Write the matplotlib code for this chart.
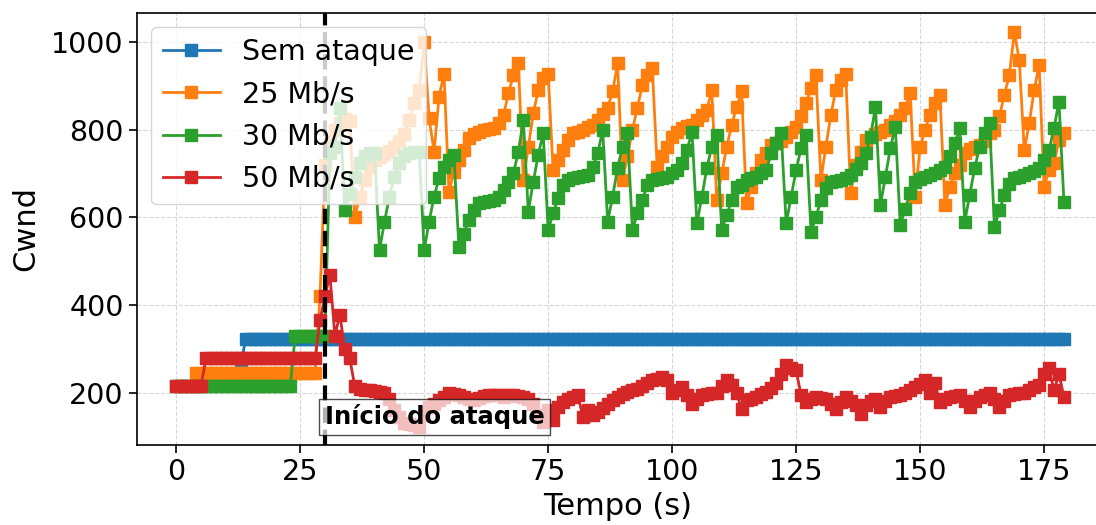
import numpy as np
import matplotlib
matplotlib.use("Agg")
import matplotlib.pyplot as plt

# Cwnd per second, one list per scenario (start second given separately)
BLUE_START = 13
blue_vals = [260] + [322] * 166

ORANGE_START = 4
orange_vals = [245] * 25 + [
    420, 720, 770, 800, 815, 825, 820, 600, 647, 685,          # 29-38
    715, 730, 738, 745, 752, 761, 775, 790, 822, 860,          # 39-48
    890, 1000, 826, 750, 875, 928, 658, 704, 730, 753,         # 49-58
    780, 790, 795, 799, 801, 803, 814, 833, 883, 925,          # 59-68
    951, 685, 760, 837, 890, 917, 928, 708, 730, 753,          # 69-78
    776, 792, 795, 799, 805, 811, 822, 835, 850, 887,          # 79-88
    951, 685, 740, 800, 850, 902, 925, 940, 715, 740,          # 89-98
    760, 784, 795, 803, 808, 811, 822, 833, 845, 890,          # 99-108
    639, 700, 760, 810, 852, 887, 632, 670, 700, 730,          # 109-118
    746, 765, 770, 775, 784, 795, 807, 830, 860, 894,          # 119-128
    925, 685, 761, 833, 890, 913, 928, 655, 720, 750,          # 129-138
    776, 784, 790, 795, 800, 811, 820, 833, 850, 883,          # 139-148
    647, 760, 800, 833, 860, 879, 628, 670, 700, 720,          # 149-158
    746, 755, 761, 765, 775, 792, 800, 830, 880, 925,          # 159-168
    1022, 959, 753, 814, 890, 948, 670, 708, 723, 776,         # 169-178
    792]                                                       # 179

GREEN_START = 0
green_vals = [215] * 24 + [330] * 7 + [
    746, 760, 849, 616, 654, 693, 723, 740, 746, 746,          # 31-40
    525, 590, 647, 693, 723, 740, 746, 748, 750, 525,          # 41-50
    590, 647, 689, 715, 731, 742, 533, 563, 594, 616,          # 51-60
    632, 635, 637, 639, 647, 662, 681, 700, 750, 822,          # 61-70
    613, 681, 742, 792, 571, 609, 643, 674, 685, 690,          # 71-80
    693, 695, 696, 715, 746, 799, 590, 647, 712, 761,          # 81-90
    792, 571, 609, 639, 674, 685, 688, 690, 693, 700,          # 91-100
    708, 723, 753, 795, 586, 647, 712, 761, 788, 571,          # 101-110
    605, 639, 670, 674, 685, 690, 693, 700, 708, 746,          # 111-120
    770, 792, 586, 647, 708, 757, 788, 567, 601, 639,          # 121-130
    666, 681, 683, 685, 690, 696, 710, 723, 746, 784,          # 131-140
    852, 628, 693, 757, 807, 582, 620, 655, 681, 688,          # 141-150
    693, 697, 700, 708, 715, 740, 770, 803, 590, 651,          # 151-160
    712, 761, 792, 814, 578, 616, 651, 677, 690, 693,          # 161-170
    697, 700, 706, 712, 731, 753, 803, 864, 636]               # 171-179

RED_START = 0
red_vals = [215] * 6 + [278] * 23 + [
    365, 420, 468, 330, 378, 300, 278, 215, 209, 207,          # 29-38
    205, 204, 202, 200, 185, 160, 145, 130, 129, 125,          # 39-48
    122, 150, 167, 175, 183, 190, 198, 196, 194, 190,          # 49-58
    185, 183, 188, 192, 194, 194, 194, 190, 194, 194,          # 59-68
    192, 190, 185, 175, 150, 133, 160, 137, 167, 179,          # 69-78
    186, 190, 194, 145, 160, 150, 156, 165, 175, 183,          # 79-88
    190, 196, 202, 205, 209, 215, 221, 228, 232, 236,          # 89-98
    228, 198, 205, 213, 195, 175, 185, 194, 196, 198,          # 99-108
    200, 215, 228, 217, 198, 163, 183, 186, 190, 196,          # 109-118
    202, 210, 221, 243, 262, 255, 251, 194, 179, 185,          # 119-128
    190, 188, 186, 175, 163, 178, 190, 180, 171, 152,          # 129-138
    171, 180, 186, 167, 180, 190, 192, 194, 200, 205,          # 139-148
    213, 220, 228, 198, 221, 179, 185, 190, 192, 194,          # 149-158
    180, 167, 180, 190, 194, 198, 185, 167, 180, 194,          # 159-168
    196, 198, 200, 205, 212, 217, 243, 255, 205, 243,          # 169-178
    190]                                                       # 179

ATTACK_T = 30
series = [
    ("Sem ataque", BLUE_START, blue_vals, "#1f77b4"),
    ("25 Mb/s", ORANGE_START, orange_vals, "#ff7f0e"),
    ("30 Mb/s", GREEN_START, green_vals, "#2ca02c"),
    ("50 Mb/s", RED_START, red_vals, "#d62728"),
]

fig = plt.figure(figsize=(10.96, 5.25), dpi=100)
# right spine sits on the very edge of the image, as in the original crop
ax = fig.add_axes([0.125, 0.152, 0.8765, 0.824])

for label, start, vals, color in series:
    t = start + np.arange(len(vals))
    ax.plot(t, vals, marker="s", markersize=9, linewidth=2, color=color, label=label)

ax.axvline(ATTACK_T, color="black", linestyle="--", linewidth=3)
ax.text(ATTACK_T, 145, "Início do ataque", fontsize=17.5, fontweight="bold",
        ha="left", va="center",
        bbox=dict(facecolor="white", edgecolor="black", alpha=0.7))

ax.set_xlim(-7.9, 185.8)
ax.set_ylim(80, 1067)
ax.set_xticks([0, 25, 50, 75, 100, 125, 150, 175])
ax.set_yticks([200, 400, 600, 800, 1000])
ax.tick_params(labelsize=20.5, length=6, width=1.2)
ax.set_xlabel("Tempo (s)", fontsize=22, labelpad=4)
ax.set_ylabel("Cwnd", fontsize=22, labelpad=8)
ax.grid(True, linestyle="--", alpha=0.5)
for s in ax.spines.values():
    s.set_linewidth(1.2)
ax.legend(loc="upper left", fontsize=20.5)

fig.savefig("out.png", dpi=100)
